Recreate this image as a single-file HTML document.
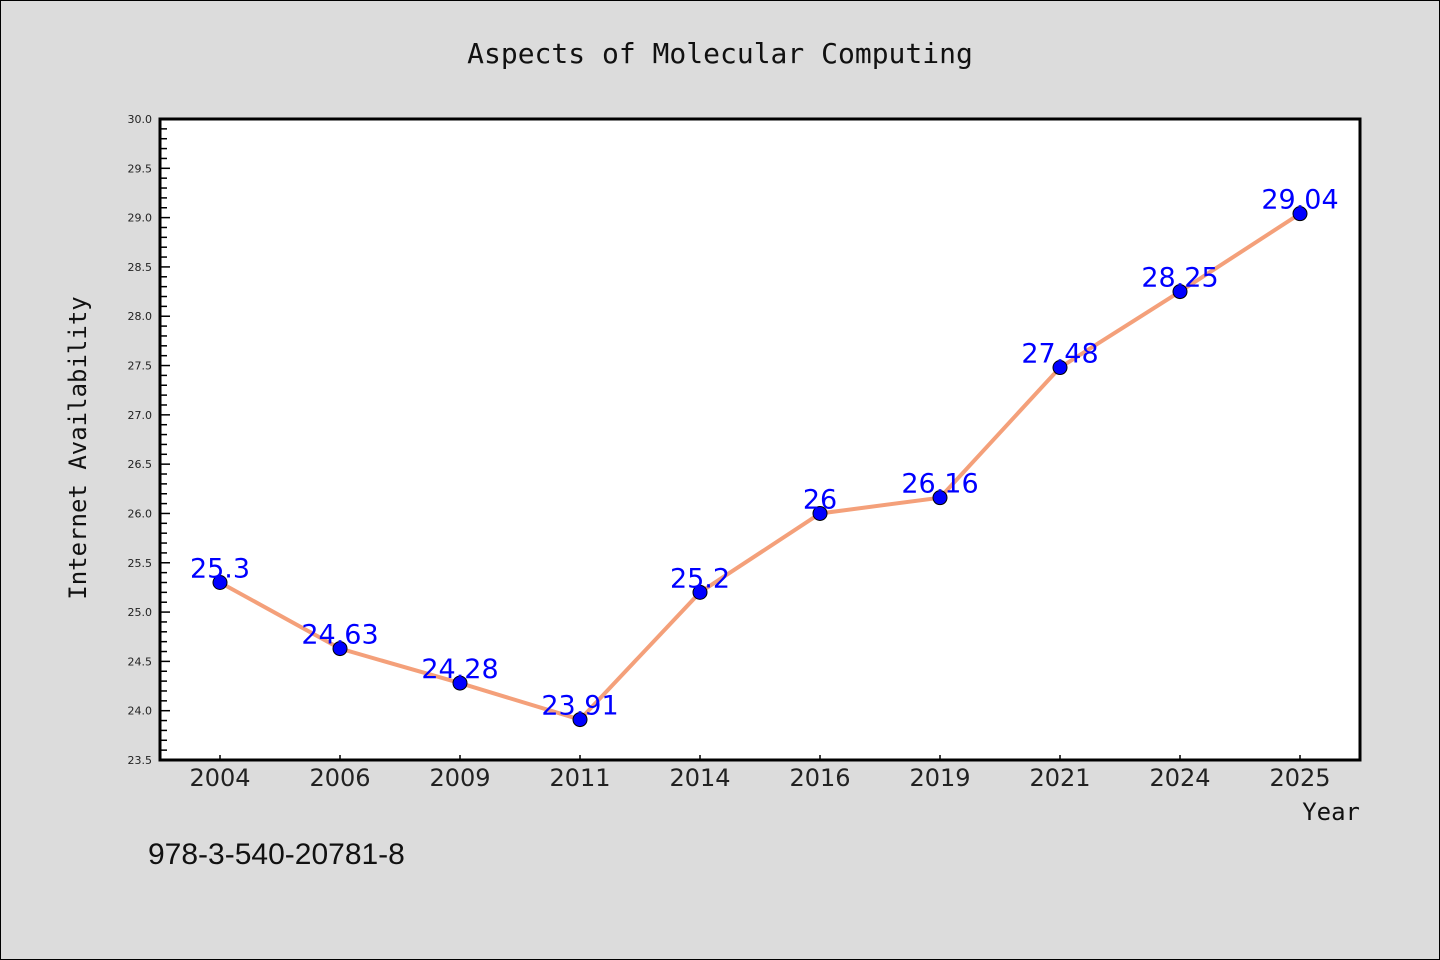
<!DOCTYPE html>
<html><head><meta charset="utf-8"><style>
body{margin:0;background:#dcdcdc;}
svg{display:block;font-family:"DejaVu Sans Mono","Liberation Mono",monospace;}
</style></head><body>
<svg id="chart" width="1440" height="960">
<rect x="0.5" y="0.5" width="1439" height="959" fill="#dcdcdc" stroke="#000"/>
<text x="720" y="63" text-anchor="middle" font-size="28" fill="#111">Aspects of Molecular Computing</text>
<rect x="160" y="119" width="1200" height="641" fill="#fff"/>
<g id="axes"></g>
<g id="marks"></g>
<rect x="160" y="119" width="1200" height="641" fill="none" stroke="#000" stroke-width="3"/>
<text x="86" y="448" transform="rotate(-90 86 448)" text-anchor="middle" font-size="24" fill="#111">Internet Availability</text>
<text x="1360" y="820" text-anchor="end" font-size="24" fill="#111">Year</text>
<text x="148" y="864" font-size="30" fill="#111" font-family="Liberation Sans, sans-serif">978-3-540-20781-8</text>
</svg>
<script>
const categories=["2004","2006","2009","2011","2014","2016","2019","2021","2024","2025"];
const values=[25.3,24.63,24.28,23.91,25.2,26.0,26.16,27.48,28.25,29.04];
const valueLabels=["25.3","24.63","24.28","23.91","25.2","26","26.16","27.48","28.25","29.04"];
const yTicks=[23.5,24.0,24.5,25.0,25.5,26.0,26.5,27.0,27.5,28.0,28.5,29.0,29.5,30.0];
const ns="http://www.w3.org/2000/svg";
const L=160,R=1360,T=119,B=760,yMin=23.5,yMax=30;
function x(i){return L+(R-L)/categories.length*(i+0.5);}
function y(v){return B-(v-yMin)/(yMax-yMin)*(B-T);}
function mk(tag,attrs,parent){const e=document.createElementNS(ns,tag);for(const k in attrs)e.setAttribute(k,attrs[k]);parent.appendChild(e);return e;}
const axes=document.getElementById('axes'),marks=document.getElementById('marks');
for(let k=0;k<=65;k++){const v=yMin+k*0.1;const major=k%5===0;
 const t=mk('line',{x1:L,x2:L+(major?10:7),y1:y(v),y2:y(v),stroke:'#000','stroke-width':1.5},axes);
 
 }
yTicks.forEach(v=>{const t=mk('text',{x:L-8,y:y(v)+4,'text-anchor':'end','font-size':11,fill:'#222','font-family':'DejaVu Sans, sans-serif'},axes);t.textContent=v.toFixed(1);
 
 });
categories.forEach((c,i)=>{
 const t=mk('line',{x1:x(i),x2:x(i),y1:B,y2:B-5,stroke:'#000','stroke-width':1.5},axes);
 
 
 const l=mk('text',{x:x(i),y:B+26,'text-anchor':'middle','font-size':24,fill:'#222','font-family':'DejaVu Sans, sans-serif'},axes);l.textContent=c;
 
 });
const line=mk('polyline',{points:values.map((v,i)=>x(i)+','+y(v)).join(' '),fill:'none',stroke:'#f4a07a','stroke-width':4},marks);


values.forEach((v,i)=>{
 const c=mk('circle',{cx:x(i),cy:y(v),r:7,fill:'#0000ff',stroke:'#000','stroke-width':1},marks);
 
 
 const t=mk('text',{x:x(i),y:y(v)-5,'text-anchor':'middle','font-size':27,fill:'#0000ff','font-family':'DejaVu Sans, sans-serif'},marks);t.textContent=valueLabels[i];
 
 });
</script>
</body></html>
